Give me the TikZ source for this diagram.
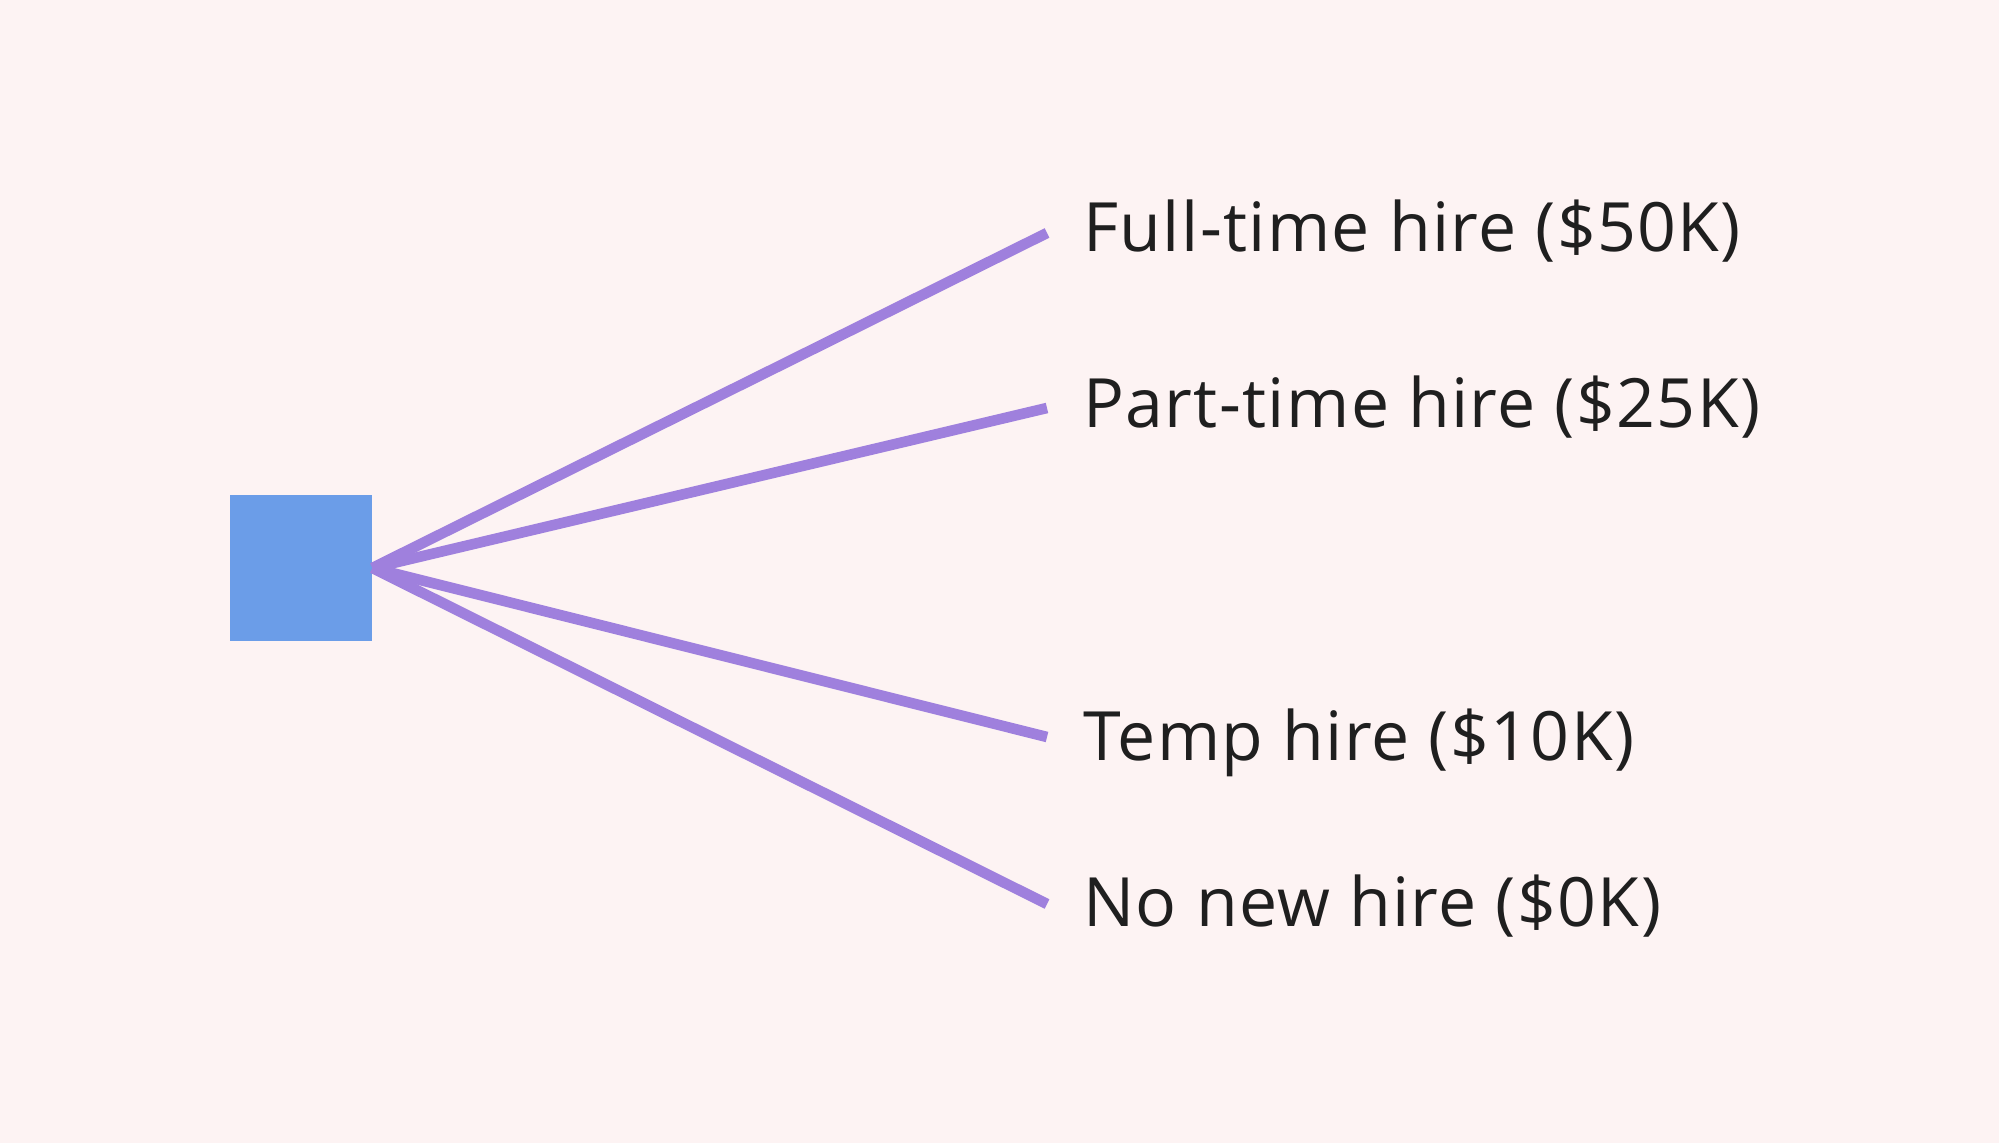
\documentclass[tikz,border=0pt]{standalone}
\usepackage{fontspec}
\setmainfont{Open Sans}[LetterSpace=2]
\definecolor{bgpink}{HTML}{FDF3F3}
\definecolor{sqblue}{HTML}{6B9DE8}
\definecolor{branchviolet}{HTML}{9F80DD}
\definecolor{labelgrey}{HTML}{1F1F1F}
\begin{document}
\begin{tikzpicture}[x=0.5pt, y=-0.5pt]
    \tikzset{
        decision box/.style={fill=sqblue, minimum width=71pt, minimum height=73pt, inner sep=0pt},
        branch line/.style={branchviolet, line width=5.3pt},
        option label/.style={anchor=base west, inner sep=0pt, text=labelgrey, font=\fontsize{34}{40}\selectfont},
    }
    % canvas
    \fill[bgpink] (0, 0) rectangle (1999, 1143);
    \useasboundingbox (0, 0) rectangle (1999, 1143);
    \node[decision box] (choice) at (301, 568) {};
    \node[option label] (full) at (1083, 252) {Full-time hire (\$50K)};
    \node[option label] (part) at (1083, 428) {Part-time hire (\$25K)};
    \node[option label] (temp) at (1083, 761) {Temp hire (\$10K)};
    \node[option label] (none) at (1083, 927) {No new hire (\$0K)};
    \coordinate (full end) at (1047, 233);
    \coordinate (part end) at (1047, 408);
    \coordinate (temp end) at (1047, 737);
    \coordinate (none end) at (1047, 904);
    \foreach \b in {full, part, temp, none}
        \draw[branch line] (choice.east) -- (\b\space end);
\end{tikzpicture}
\end{document}
